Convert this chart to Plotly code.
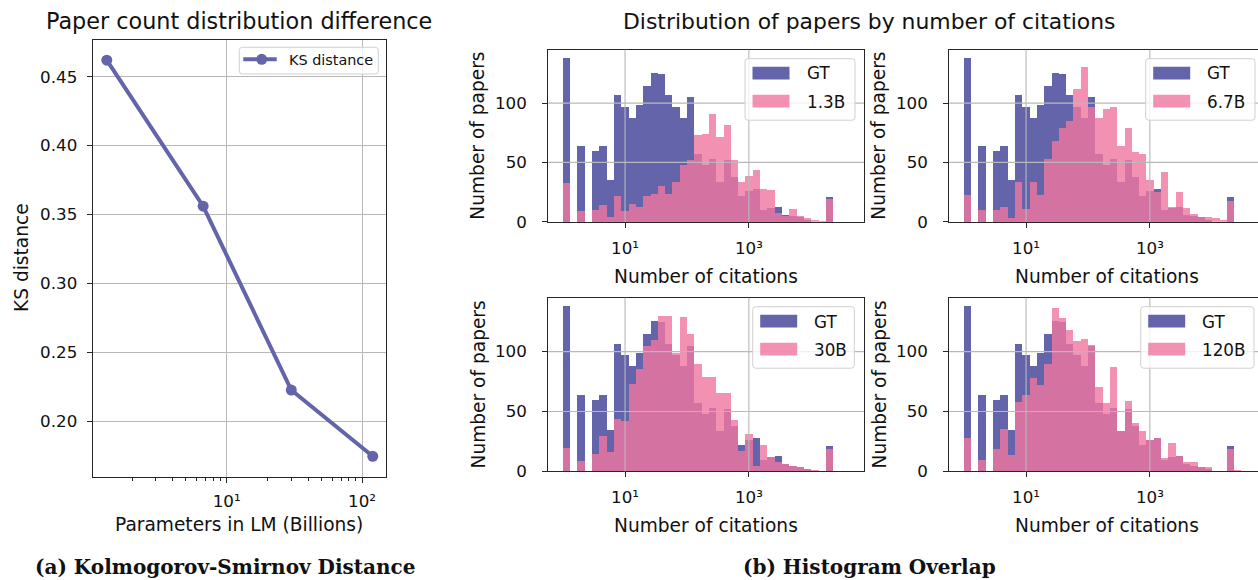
import numpy as np
import plotly.graph_objects as go

W, H = 1258, 580
FONT = "DejaVu Sans"
SERIF = "DejaVu Serif"

# ---------------- data ----------------
ks_model_params = [1.3, 6.7, 30, 120]          # billions of parameters
ks_distance = [0.462, 0.356, 0.2225, 0.1744]

LOG_BIN_WIDTH = 0.118   # width of each log10(citations) bin
gt_counts = [138, 0, 64, 0, 60, 64, 35, 107, 97, 88,
             99, 115, 126, 125, 107, 97, 88, 105, 57, 48,
             53, 34, 52, 38, 22, 26, 28, 10, 12, 13,
             6, 5, 4, 2, 0, 0, 21, 0]
counts_1_3b = [33, 0, 9, 0, 10, 14, 4, 22, 9, 15,
               13, 22, 24, 30, 24, 34, 48, 52, 73, 74,
               91, 72, 82, 52, 34, 39, 44, 28, 27, 8,
               5, 11, 5, 3, 2, 1, 19, 0]
counts_6_7b = [23, 0, 10, 0, 10, 13, 3, 34, 11, 34,
               23, 53, 68, 79, 85, 112, 131, 97, 88, 95,
               97, 64, 79, 59, 57, 35, 25, 42, 13, 25,
               12, 7, 4, 4, 3, 2, 18, 0]
counts_30b = [20, 0, 9, 0, 15, 30, 16, 44, 42, 73,
              86, 105, 110, 130, 130, 99, 129, 115, 90, 79,
              79, 66, 66, 43, 17, 31, 5, 22, 12, 8,
              6, 5, 4, 2, 1, 0, 19, 0]
counts_120b = [28, 0, 10, 0, 19, 36, 14, 58, 64, 78,
               72, 90, 137, 128, 118, 109, 111, 106, 71, 57,
               87, 34, 59, 41, 34, 26, 28, 11, 24, 13,
               8, 8, 4, 4, 0, 0, 19, 1]
model_labels = ["1.3B", "6.7B", "30B", "120B"]
hist_x_tickvals = [1, 3]
hist_x_ticktext = ["10¹", "10³"]
hist_y_tickvals = [0, 50, 100]
ks_x_tickvals = [10, 100]
ks_x_ticktext = ["10¹", "10²"]
ks_x_minor = [2, 3, 4, 5, 6, 7, 8, 9, 20, 30, 40, 50, 60, 70, 80, 90]
ks_y_tickvals = [0.20, 0.25, 0.30, 0.35, 0.40, 0.45]

# ---------------- style ----------------
GT_COLOR = "#6464AA"
PINK = "rgba(240,118,160,0.8)"
LINE_COLOR = "#6464AA"
AXIS_COLOR = "#262626"
GRID_COLOR = "#b8b8b8"
TICK_SIZE = 16.7
LABEL_SIZE = 18.6
TITLE_SIZE = 22.3


def fx(p):
    return p / W


def fy(p):
    return 1 - p / H


def rrect(x0, y0, x1, y1, r):
    def P(x, y):
        return f"{fx(x):.6f},{fy(y):.6f}"
    return (f"M {P(x0 + r, y0)} L {P(x1 - r, y0)} Q {P(x1, y0)} {P(x1, y0 + r)} "
            f"L {P(x1, y1 - r)} Q {P(x1, y1)} {P(x1 - r, y1)} L {P(x0 + r, y1)} "
            f"Q {P(x0, y1)} {P(x0, y1 - r)} L {P(x0, y0 + r)} Q {P(x0, y0)} {P(x0 + r, y0)} Z")


fig = go.Figure()
shapes = []
annotations = []
layout = dict(
    width=W, height=H, autosize=False,
    margin=dict(l=0, r=0, t=0, b=0, pad=0, autoexpand=False),
    paper_bgcolor="white", plot_bgcolor="white",
    showlegend=False, barmode="overlay", bargap=0,
    font=dict(family=FONT, color="black"),
)

# ---------------- KS plot ----------------
fig.add_trace(go.Scatter(
    x=ks_model_params, y=ks_distance, mode="lines+markers",
    line=dict(color=LINE_COLOR, width=4), marker=dict(color=LINE_COLOR, size=11),
    xaxis="x", yaxis="y", name="KS distance"))

layout["xaxis"] = dict(
    domain=[fx(92.7), fx(386)], anchor="y", type="log", range=[0.01, 2.177], automargin=False,
    tickmode="array", tickvals=ks_x_tickvals, ticktext=ks_x_ticktext,
    ticks="outside", ticklen=5, tickcolor=AXIS_COLOR, ticklabelstandoff=4,
    tickfont=dict(size=TICK_SIZE, family=FONT, color="#111"),
    showline=True, mirror=True, linecolor=AXIS_COLOR, linewidth=1.2,
    showgrid=True, gridcolor=GRID_COLOR, gridwidth=1, zeroline=False,
    minor=dict(tickmode="array", tickvals=ks_x_minor, ticks="outside", ticklen=3,
               tickcolor=AXIS_COLOR, showgrid=False),
)
layout["yaxis"] = dict(
    domain=[fy(476.7), fy(40.3)], anchor="x", range=[0.1596, 0.4764], automargin=False,
    tickmode="array", tickvals=ks_y_tickvals, tickformat=".2f",
    ticks="outside", ticklen=5, tickcolor=AXIS_COLOR, ticklabelstandoff=6,
    tickfont=dict(size=TICK_SIZE, family=FONT, color="#111"),
    showline=True, mirror=True, linecolor=AXIS_COLOR, linewidth=1.2,
    showgrid=True, gridcolor=GRID_COLOR, gridwidth=1, zeroline=False,
)

annotations.append(dict(text="Paper count distribution difference", x=fx(239.4), y=fy(21),
                        xref="paper", yref="paper", xanchor="center", yanchor="middle",
                        showarrow=False, font=dict(size=TITLE_SIZE, family=FONT, color="#111")))
annotations.append(dict(text="KS distance", x=fx(21), y=fy(258), textangle=-90,
                        xref="paper", yref="paper", xanchor="center", yanchor="middle",
                        showarrow=False, font=dict(size=LABEL_SIZE, family=FONT, color="#111")))
annotations.append(dict(text="Parameters in LM (Billions)", x=fx(239.4), y=fy(524),
                        xref="paper", yref="paper", xanchor="center", yanchor="middle",
                        showarrow=False, font=dict(size=LABEL_SIZE, family=FONT, color="#111")))

# KS legend
shapes.append(dict(type="path", xref="paper", yref="paper", path=rrect(239.3, 47.3, 378.3, 74, 3),
                   fillcolor="rgba(255,255,255,0.8)", line=dict(color="#d0d0d0", width=1), layer="above"))
shapes.append(dict(type="line", xref="paper", yref="paper", x0=fx(243.3), x1=fx(276.7),
                   y0=fy(59.3), y1=fy(59.3), line=dict(color=LINE_COLOR, width=4), layer="above"))
shapes.append(dict(type="circle", xref="paper", yref="paper", x0=fx(256.2), x1=fx(267.2),
                   y0=fy(64.8), y1=fy(53.8), fillcolor=LINE_COLOR, line=dict(width=0), layer="above"))
annotations.append(dict(text="KS distance", x=fx(287.3), y=fy(59.8), xref="paper", yref="paper",
                        xanchor="left", yanchor="middle", showarrow=False,
                        font=dict(size=14.4, family=FONT, color="#111")))

# ---------------- histograms ----------------
n_bins = len(gt_counts)
bin_left = np.arange(n_bins) * LOG_BIN_WIDTH
bin_center = bin_left + LOG_BIN_WIDTH / 2

panels = [
    dict(label=model_labels[0], counts=counts_1_3b, n="2", L=548.3, R=864.0, T=49.7, B=221.7,
         leg=(745.0, 855.0), mirror=True),
    dict(label=model_labels[1], counts=counts_6_7b, n="3", L=949.3, R=1258.0, T=49.7, B=221.7,
         leg=(1145.7, 1255.0), mirror=False),
    dict(label=model_labels[2], counts=counts_30b, n="4", L=548.3, R=864.0, T=297.7, B=471.3,
         leg=(752.7, 854.3), mirror=True),
    dict(label=model_labels[3], counts=counts_120b, n="5", L=949.3, R=1258.0, T=297.7, B=471.3,
         leg=(1140.7, 1254.0), mirror=False),
]
PX_PER_DEC = 61.9
X0 = -0.24

grid_shapes = []
legend_shapes = []
for p in panels:
    xa, ya = "x" + p["n"], "y" + p["n"]
    fig.add_trace(go.Bar(x=bin_center, y=gt_counts, width=LOG_BIN_WIDTH, marker=dict(color=GT_COLOR, line=dict(width=0)),
                         xaxis=xa, yaxis=ya, name="GT"))
    fig.add_trace(go.Bar(x=bin_center, y=p["counts"], width=LOG_BIN_WIDTH, marker=dict(color=PINK, line=dict(width=0)),
                         xaxis=xa, yaxis=ya, name=p["label"]))
    x_range = [X0, X0 + (p["R"] - p["L"]) / PX_PER_DEC]
    layout["xaxis" + p["n"]] = dict(
        domain=[fx(p["L"]), fx(p["R"])], anchor=ya, range=x_range, automargin=False,
        tickmode="array", tickvals=hist_x_tickvals, ticktext=hist_x_ticktext,
        ticks="outside", ticklen=5, tickcolor=AXIS_COLOR, ticklabelstandoff=6,
        tickfont=dict(size=TICK_SIZE, family=FONT, color="#111"),
        showline=True, mirror=True, linecolor=AXIS_COLOR, linewidth=1.2,
        showgrid=False, zeroline=False)
    layout["yaxis" + p["n"]] = dict(
        domain=[fy(p["B"]), fy(p["T"])], anchor=xa, range=[0, 145], automargin=False,
        tickmode="array", tickvals=hist_y_tickvals,
        ticks="outside", ticklen=5, tickcolor=AXIS_COLOR, ticklabelstandoff=12,
        tickfont=dict(size=TICK_SIZE, family=FONT, color="#111"),
        showline=True, mirror=p["mirror"], linecolor=AXIS_COLOR, linewidth=1.2,
        showgrid=False, zeroline=False)
    # grid lines drawn above the bars (as in the reference)
    for xv in hist_x_tickvals:
        grid_shapes.append(dict(type="line", xref=xa, yref=ya + " domain", x0=xv, x1=xv, y0=0, y1=1,
                                line=dict(color=GRID_COLOR, width=1.1), layer="above"))
    for yv in hist_y_tickvals[1:]:
        grid_shapes.append(dict(type="line", xref=xa + " domain", yref=ya, x0=0, x1=1, y0=yv, y1=yv,
                                line=dict(color=GRID_COLOR, width=1.1), layer="above"))
    # axis labels
    annotations.append(dict(text="Number of papers", x=fx(p["L"] - 70.3), y=fy((p["T"] + p["B"]) / 2),
                            textangle=-90, xref="paper", yref="paper", xanchor="center", yanchor="middle",
                            showarrow=False, font=dict(size=LABEL_SIZE, family=FONT, color="#111")))
    annotations.append(dict(text="Number of citations", x=fx(p["L"] + 157.8), y=fy(p["B"] + 54.5),
                            xref="paper", yref="paper", xanchor="center", yanchor="middle",
                            showarrow=False, font=dict(size=LABEL_SIZE, family=FONT, color="#111")))
    # legend
    lx0, lx1 = p["leg"]
    T = p["T"]
    legend_shapes.append(dict(type="path", xref="paper", yref="paper", path=rrect(lx0, T + 9, lx1, T + 70.5, 3),
                              fillcolor="rgba(255,255,255,0.8)", line=dict(color="#d0d0d0", width=1), layer="above"))
    for k, (col, lab) in enumerate([(GT_COLOR, "GT"), (PINK, p["label"])]):
        y0 = T + 17 + 28 * k
        legend_shapes.append(dict(type="rect", xref="paper", yref="paper", x0=fx(lx0 + 7.5), x1=fx(lx0 + 44.5),
                                  y0=fy(y0 + 12.8), y1=fy(y0), fillcolor=col, line=dict(width=0), layer="above"))
        annotations.append(dict(text=lab, x=fx(lx0 + 59.5), y=fy(y0 + 6.8), xref="paper", yref="paper",
                                xanchor="left", yanchor="middle", showarrow=False,
                                font=dict(size=16.8, family=FONT, color="#111")))

shapes = grid_shapes + shapes + legend_shapes

annotations.append(dict(text="Distribution of papers by number of citations", x=fx(868.5), y=fy(22),
                        xref="paper", yref="paper", xanchor="center", yanchor="middle",
                        showarrow=False, font=dict(size=21.9, family=FONT, color="#111")))

# captions
annotations.append(dict(text="<b>(a) Kolmogorov-Smirnov Distance</b>", x=fx(225), y=fy(567),
                        xref="paper", yref="paper", xanchor="center", yanchor="middle",
                        showarrow=False, font=dict(size=20, family=SERIF, color="#111")))
annotations.append(dict(text="<b>(b) Histogram Overlap</b>", x=fx(869), y=fy(567),
                        xref="paper", yref="paper", xanchor="center", yanchor="middle",
                        showarrow=False, font=dict(size=20, family=SERIF, color="#111")))

layout["shapes"] = shapes
layout["annotations"] = annotations
fig.update_layout(**layout)
fig.write_html(
    "out.html",
    config={"displayModeBar": False, "responsive": False},
    post_script=("document.documentElement.style.margin='0';document.body.style.margin='0';"
                 "document.documentElement.style.overflow='hidden';document.body.style.overflow='hidden';"),
)
